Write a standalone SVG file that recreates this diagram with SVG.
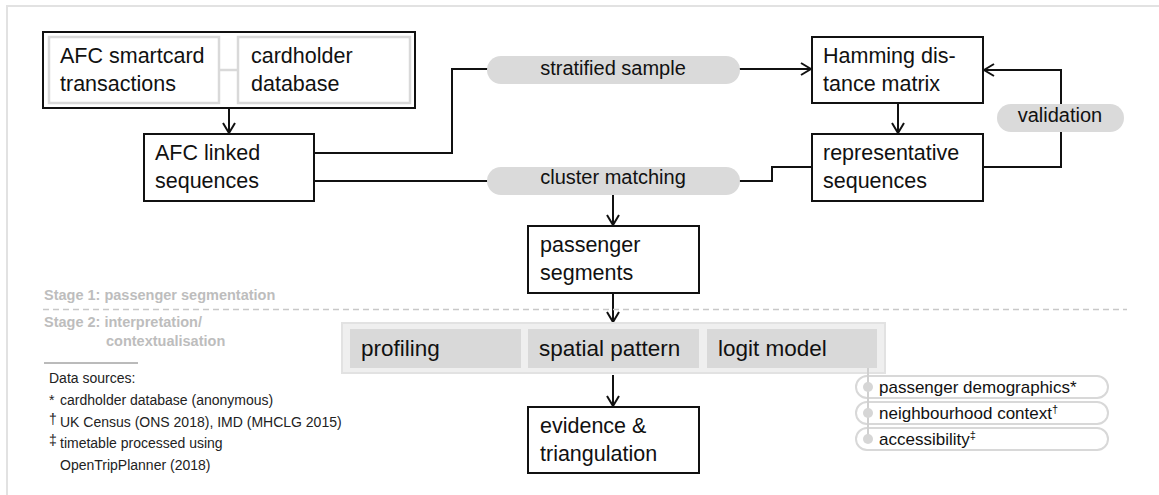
<svg xmlns="http://www.w3.org/2000/svg" width="1159" height="495" viewBox="0 0 1159 495">
<defs>
<style>
.box{fill:#fff;stroke:#111;stroke-width:2}
.inner{fill:#fff;stroke:#d9d9d9;stroke-width:2.5}
.t{font-family:"Liberation Sans",Arial,sans-serif;font-size:21.5px;fill:#111}
.pt{font-family:"Liberation Sans",Arial,sans-serif;font-size:20px;fill:#111;text-anchor:middle}
.ct{font-family:"Liberation Sans",Arial,sans-serif;font-size:22.5px;fill:#111}
.pill{fill:#dadada}
.conn{fill:none;stroke:#111;stroke-width:2}
.stage{font-family:"Liberation Sans",Arial,sans-serif;font-size:14.5px;font-weight:bold;fill:#bdbdbd}
.src{font-family:"Liberation Sans",Arial,sans-serif;font-size:14px;fill:#222}
.ctx{font-family:"Liberation Sans",Arial,sans-serif;font-size:17px;fill:#111}
.opill{fill:#fff;stroke:#d8d8d8;stroke-width:2}
.cell{fill:#d9d9d9}
</style>
<marker id="arr" viewBox="0 0 12 14" refX="11" refY="7" markerWidth="12" markerHeight="14" markerUnits="userSpaceOnUse" orient="auto">
<path d="M1,1 L11,7 L1,13" fill="none" stroke="#111" stroke-width="2"/>
</marker>
</defs>
<rect width="1159" height="495" fill="#fff"/>
<g id="frame">
<path d="M7,495 V6 H1159" fill="none" stroke="#e2e2e2" stroke-width="2"/>
</g>

<g id="connectors">
<line class="conn" x1="229" y1="108" x2="229" y2="133" marker-end="url(#arr)"/>
<polyline class="conn" points="314,153 452,153 452,69 490,69"/>
<line class="conn" x1="738" y1="69" x2="811" y2="69" marker-end="url(#arr)"/>
<line class="conn" x1="898" y1="103" x2="898" y2="133" marker-end="url(#arr)"/>
<polyline class="conn" points="983,167 1061,167 1061,70 984,70" marker-end="url(#arr)"/>
<line class="conn" x1="314" y1="181" x2="490" y2="181"/>
<polyline class="conn" points="738,181 772,181 772,167 812,167"/>
<line class="conn" x1="613" y1="195" x2="613" y2="225" marker-end="url(#arr)"/>
<line class="conn" x1="613" y1="293" x2="613" y2="322" marker-end="url(#arr)"/>
<line class="conn" x1="613" y1="375" x2="613" y2="406" marker-end="url(#arr)"/>
</g>

<g id="sources-group">
<rect class="box" x="43" y="32" width="372" height="76"/>
<line x1="219" y1="70" x2="238" y2="70" stroke="#d9d9d9" stroke-width="2.5"/>
<g id="afc-transactions">
<rect class="inner" x="49" y="37" width="170" height="66"/>
<text class="t" x="60" y="63">AFC smartcard</text>
<text class="t" x="60" y="91">transactions</text>
</g>
<g id="cardholder-db">
<rect class="inner" x="238" y="37" width="172" height="66"/>
<text class="t" x="251" y="63">cardholder</text>
<text class="t" x="251" y="91">database</text>
</g>
</g>

<g id="afc-linked">
<rect class="box" x="144" y="134" width="170" height="67"/>
<text class="t" x="155" y="160">AFC linked</text>
<text class="t" x="155" y="188">sequences</text>
</g>

<g id="stratified-sample">
<rect class="pill" x="487" y="56" width="253" height="28" rx="14"/>
<text class="pt" x="613" y="75">stratified sample</text>
</g>

<g id="cluster-matching">
<rect class="pill" x="487" y="167" width="253" height="28" rx="14"/>
<text class="pt" x="613" y="184">cluster matching</text>
</g>

<g id="hamming">
<rect class="box" x="812" y="37" width="171" height="66"/>
<text class="t" x="823" y="63">Hamming dis-</text>
<text class="t" x="823" y="91">tance matrix</text>
</g>

<g id="representative">
<rect class="box" x="812" y="134" width="171" height="67"/>
<text class="t" x="823" y="160">representative</text>
<text class="t" x="823" y="188">sequences</text>
</g>

<g id="validation">
<rect class="pill" x="997" y="104" width="127" height="28" rx="14"/>
<text class="pt" x="1060" y="122">validation</text>
</g>

<g id="passenger-segments">
<rect class="box" x="528" y="226" width="171" height="67"/>
<text class="t" x="540" y="252">passenger</text>
<text class="t" x="540" y="280">segments</text>
</g>

<g id="stages">
<text class="stage" x="44" y="300">Stage 1: passenger segmentation</text>
<line x1="43" y1="309.5" x2="1127" y2="309.5" stroke="#c8c8c8" stroke-width="1.5" stroke-dasharray="6 4"/>
<text class="stage" x="44" y="327">Stage 2: interpretation/</text>
<text class="stage" x="106" y="346">contextualisation</text>
</g>

<g id="analysis-band">
<rect x="342" y="323" width="543" height="50" fill="#efefef" stroke="#e2e2e2" stroke-width="2"/>
<g id="profiling">
<rect class="cell" x="350" y="329" width="171" height="39"/>
<text class="ct" x="361" y="356">profiling</text>
</g>
<g id="spatial-pattern">
<rect class="cell" x="528" y="329" width="171" height="39"/>
<text class="ct" x="539" y="356">spatial pattern</text>
</g>
<g id="logit-model">
<rect class="cell" x="707" y="329" width="170" height="39"/>
<text class="ct" x="718" y="356">logit model</text>
</g>
</g>

<g id="evidence">
<rect class="box" x="528" y="407" width="171" height="66"/>
<text class="t" x="540" y="433">evidence &amp;</text>
<text class="t" x="540" y="461">triangulation</text>
</g>

<g id="context-variables">
<rect class="opill" x="856" y="376" width="252" height="22" rx="11"/>
<rect class="opill" x="856" y="402" width="252" height="22" rx="11"/>
<rect class="opill" x="856" y="428" width="252" height="22" rx="11"/>
<line x1="868" y1="368" x2="868" y2="440" stroke="#d0d0d0" stroke-width="2"/>
<circle cx="868" cy="387" r="5" fill="#d6d6d6"/>
<circle cx="868" cy="413" r="5" fill="#d6d6d6"/>
<circle cx="868" cy="439" r="5" fill="#d6d6d6"/>
<text class="ctx" x="879" y="393">passenger demographics*</text>
<text class="ctx" x="879" y="419">neighbourhood context<tspan font-size="11" dy="-6">†</tspan></text>
<text class="ctx" x="879" y="445">accessibility<tspan font-size="11" dy="-6">‡</tspan></text>
</g>

<g id="data-sources">
<line x1="44" y1="363" x2="138" y2="363" stroke="#777" stroke-width="1"/>
<text class="src" x="49" y="383">Data sources:</text>
<text class="src" x="49" y="405">*</text>
<text class="src" x="60" y="405">cardholder database (anonymous)</text>
<text class="src" x="49" y="427" font-size="10" dy="-3">†</text>
<text class="src" x="60" y="427">UK Census (ONS 2018), IMD (MHCLG 2015)</text>
<text class="src" x="49" y="448" font-size="10" dy="-3">‡</text>
<text class="src" x="60" y="448">timetable processed using</text>
<text class="src" x="60" y="470">OpenTripPlanner (2018)</text>
</g>
</svg>
